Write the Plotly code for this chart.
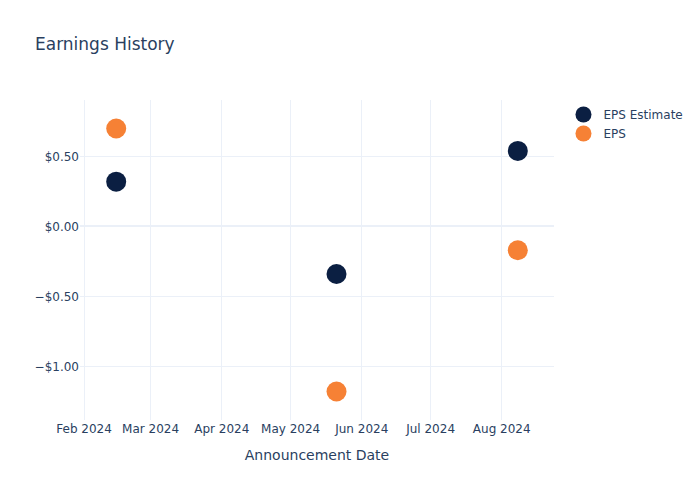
import plotly.graph_objects as go

dates = ["2024-02-15", "2024-05-21", "2024-08-08"]
eps_estimate = [0.32, -0.34, 0.54]
eps_actual = [0.70, -1.18, -0.17]

fig = go.Figure()
fig.add_trace(go.Scatter(x=dates, y=eps_estimate, mode="markers", name="EPS Estimate",
                         marker=dict(color="#0b1f42", size=20)))
fig.add_trace(go.Scatter(x=dates, y=eps_actual, mode="markers", name="EPS",
                         marker=dict(color="#f68135", size=20)))
fig.update_layout(
    template="plotly_white",
    width=700, height=500,
    title=dict(text="Earnings History"),
    font=dict(family="DejaVu Sans"),
    xaxis=dict(title=dict(text="Announcement Date"), tickformat="%b %Y"),
    yaxis=dict(tickformat="$.2f"),
)
fig.write_html("out.html")
